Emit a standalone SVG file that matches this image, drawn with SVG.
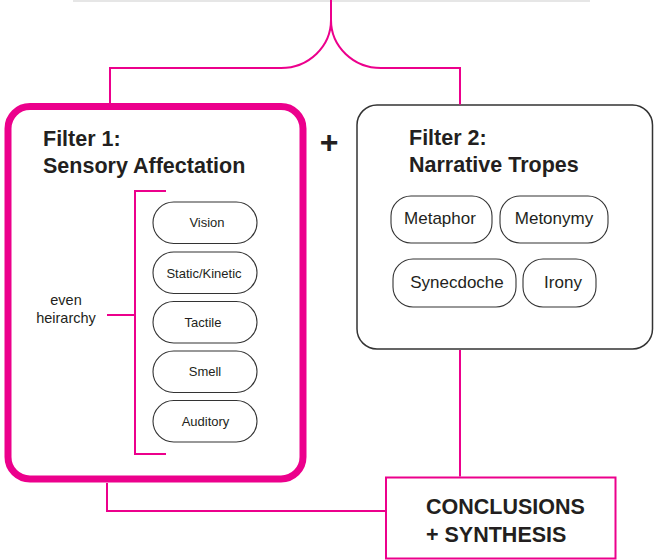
<svg xmlns="http://www.w3.org/2000/svg" width="654" height="560" viewBox="0 0 654 560">
<style>
.pk{fill:none;stroke:#ec008c;stroke-width:2}
.pill{fill:#fff;stroke:#333;stroke-width:1.1}
.t{font-family:"Liberation Sans",Arial,sans-serif;fill:#231f20}
.h{font-size:21.5px;font-weight:bold}
.s{font-size:13px;text-anchor:middle}
.m{font-size:17px;text-anchor:middle}
</style>
<rect x="0" y="0" width="654" height="560" fill="#fff"/>
<line x1="73" y1="1" x2="590" y2="1" stroke="#e6e6e6" stroke-width="2"/>
<g id="filter1">
<rect x="8" y="106.5" width="295" height="372.5" rx="22" fill="#fff" stroke="#ec008c" stroke-width="7"/>
<text class="t h" x="43" y="146">Filter 1:</text>
<text class="t h" x="43" y="173">Sensory Affectation</text>
<text class="t" x="66" y="305" font-size="14.5" text-anchor="middle">even</text>
<text class="t" x="66" y="323" font-size="14.5" text-anchor="middle">heirarchy</text>
</g>
<g id="vision"><rect class="pill" x="153" y="202" width="104" height="41.5" rx="20.75"/><text class="t s" x="207" y="227">Vision</text></g>
<g id="static"><rect class="pill" x="153" y="252" width="104" height="41.5" rx="20.75"/><text class="t s" x="204" y="277.5">Static/Kinetic</text></g>
<g id="tactile"><rect class="pill" x="153" y="301.5" width="104" height="41.5" rx="20.75"/><text class="t s" x="203" y="326.5">Tactile</text></g>
<g id="smell"><rect class="pill" x="153" y="351" width="104" height="41.5" rx="20.75"/><text class="t s" x="205" y="376">Smell</text></g>
<g id="auditory"><rect class="pill" x="153" y="400.5" width="104" height="41.5" rx="20.75"/><text class="t s" x="205.5" y="425.5">Auditory</text></g>
<g id="plus"><text class="t" x="329" y="153" font-size="32" font-weight="bold" text-anchor="middle">+</text></g>
<g id="filter2">
<rect x="357" y="105" width="295.5" height="244" rx="20" fill="#fff" stroke="#333" stroke-width="1.5"/>
<text class="t h" x="409" y="145">Filter 2:</text>
<text class="t h" x="409" y="172">Narrative Tropes</text>
</g>
<g id="metaphor"><rect class="pill" x="391" y="196" width="101" height="47" rx="20"/><text class="t m" x="440" y="224">Metaphor</text></g>
<g id="metonymy"><rect class="pill" x="500" y="196" width="108" height="47" rx="20"/><text class="t m" x="554" y="224">Metonymy</text></g>
<g id="synecdoche"><rect class="pill" x="393" y="259" width="123" height="48" rx="20"/><text class="t m" x="457" y="288">Synecdoche</text></g>
<g id="irony"><rect class="pill" x="523" y="259" width="73" height="48" rx="20"/><text class="t m" x="563" y="288">Irony</text></g>
<g id="conclusions">
<rect x="386" y="477.5" width="229.5" height="81" fill="#fff" stroke="#ec008c" stroke-width="2"/>
<text class="t" x="426" y="514" font-size="21.5" font-weight="bold">CONCLUSIONS</text>
<text class="t" x="426" y="541.5" font-size="21.5" font-weight="bold">+ SYNTHESIS</text>
</g>
<g id="connectors">
<path class="pk" d="M331,0 V20 A50,48 0 0 1 281,68 H110 V103"/>
<path class="pk" d="M331,20 A50,48 0 0 0 381,68 H460 V104.5"/>
<path class="pk" d="M107,483 V511 H385"/>
<path class="pk" d="M460,350 V476.5"/>
<path class="pk" d="M166,191 H135 V454 H166 M107,315 H135"/>
</g>
</svg>
